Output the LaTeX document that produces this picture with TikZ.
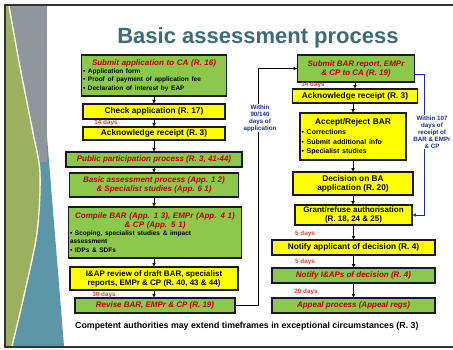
\documentclass[tikz,border=0pt]{standalone}
\usepackage{fontspec}
\setmainfont{Liberation Sans}
\usetikzlibrary{arrows.meta,shadows}
\definecolor{boxgreen}{HTML}{8CC84B}
\definecolor{boxyellow}{HTML}{FFFF00}
\definecolor{boxred}{HTML}{C00000}
\definecolor{dayred}{HTML}{E8402A}
\definecolor{noteblue}{HTML}{1A2E9A}
\definecolor{titlecol}{HTML}{3D6B78}
\definecolor{stripgreen}{HTML}{9DB060}
\definecolor{stripgrey}{HTML}{8F979C}
\definecolor{stripteal}{HTML}{5B97A6}
\begin{document}
\begin{tikzpicture}[x=1pt,y=-1pt,
  base/.style={draw=black!90, line width=1.3pt, inner sep=1.5pt, align=center,
    drop shadow={shadow xshift=0.8pt, shadow yshift=-0.8pt, opacity=0.7, fill=black}},
  gbox/.style={base, fill=boxgreen, text=boxred, font=\bfseries\itshape\fontsize{8}{9}\selectfont},
  ybox/.style={base, fill=boxyellow, text=black, font=\bfseries\fontsize{8.3}{9.3}\selectfont},
  days/.style={text=dayred, font=\bfseries\fontsize{6.3}{7}\selectfont, inner sep=0pt},
  note/.style={text=noteblue, font=\bfseries\fontsize{6.2}{7}\selectfont, align=center, fill=white, inner sep=1pt},
  arr/.style={line width=0.9pt, -{Triangle[length=3.2pt,width=3.2pt]}},
  barr/.style={line width=1pt, draw=noteblue, -{Triangle[length=3.2pt,width=3.2pt]}}
]
\useasboundingbox (0,0) rectangle (453,349);
\fill[white] (0,0) rectangle (453,349);
% left decoration strip
\fill[stripteal] (45,112) -- (64,346) -- (6,346) -- (6,112) -- cycle;
\fill[stripgrey] (6,6) rectangle (47,162);
\fill[stripgreen] (6,6) -- plot[smooth] coordinates {(9,6) (20,67) (33,133) (40,173) (37,233) (23,300) (12,346)} -- (6,346) -- cycle;
\draw[white, line width=1.3pt] plot[smooth] coordinates {(9,6) (20,67) (33,133) (40,173) (37,233) (23,300) (12,346)};
% slide frame
\draw[black!80, line width=1.6pt] (453,5) -- (5,5) -- (5,347) -- (453,347);

% title
\node[font=\bfseries\fontsize{22}{24}\selectfont, text=titlecol, anchor=base, inner sep=0pt] (title) at (258,43) {Basic assessment process};

% left column
\node[gbox, text width=142pt, align=left, minimum height=41pt] (sub) at (154,75.5)
  {{\centering Submit application to CA (R. 16)\par}%
   {\color{black}\upshape\fontsize{6.5}{8}\selectfont
   \textbullet\ Application form\\
   \textbullet\ Proof of payment of application fee\\
   \textbullet\ Declaration of interest by EAP}};
\node[ybox, minimum width=142pt, minimum height=15pt] (chk) at (154,111.5) {Check application (R. 17)};
\node[ybox, minimum width=142pt, minimum height=13pt] (ack1) at (154,133.5) {Acknowledge receipt (R. 3)};
\node[gbox, minimum width=176pt, minimum height=15pt] (pub) at (154,159.5) {Public participation process (R. 3, 41-44)};
\node[gbox, minimum width=169pt, minimum height=24pt] (bas) at (154,185) {Basic assessment process (App. 1 2)\\ \& Specialist studies (App. 6 1)};
\node[gbox, text width=170pt, align=left, minimum height=51pt] (comp) at (155,232.5)
  {{\centering Compile BAR (App. 1 3), EMPr (App. 4 1)\\ \& CP (App. 5 1)\par}%
   {\color{black}\upshape\fontsize{6.5}{8}\selectfont
   \textbullet\ Scoping, specialist studies \& impact\\
   assessment\\
   \textbullet\ IDPs \& SDFs}};
\node[ybox, minimum width=168pt, minimum height=23pt, font=\bfseries\fontsize{8}{9}\selectfont] (iap) at (154,278.5) {I\&AP review of draft BAR, specialist\\ reports, EMPr \& CP (R. 40, 43 \& 44)};
\node[gbox, minimum width=160pt, minimum height=15pt] (rev) at (155,305.5) {Revise BAR, EMPr \& CP (R. 19)};

\node[days] (d1) at (106,123) {14 days};
\node[days] (d2) at (104,295) {30 days};

% right column
\node[gbox, minimum width=117pt, minimum height=27pt] (sbar) at (356,68.5) {Submit BAR report, EMPr\\ \& CP to CA (R. 19)};
\node[ybox, minimum width=125pt, minimum height=14pt] (ack2) at (355,96) {Acknowledge receipt (R. 3)};
\node[ybox, text width=103pt, align=left, minimum height=47pt] (acc) at (353,136.5)
  {{\centering Accept/Reject BAR\par}%
   {\fontsize{7}{10}\selectfont
   \textbullet\ Corrections\\
   \textbullet\ Submit additional info\\
   \textbullet\ Specialist studies}};
\node[ybox, minimum width=120pt, minimum height=23pt] (dec) at (353,183.5) {Decision on BA\\ application (R. 20)};
\node[ybox, minimum width=117pt, minimum height=20pt, font=\bfseries\fontsize{8}{9}\selectfont] (grant) at (353.5,215) {Grant/refuse authorisation\\ (R. 18, 24 \& 25)};
\node[ybox, minimum width=163pt, minimum height=15pt] (napp) at (353.5,247.5) {Notify applicant of decision (R. 4)};
\node[gbox, minimum width=163pt, minimum height=15pt] (niap) at (353.5,275.5) {Notify I\&APs of decision (R. 4)};
\node[gbox, minimum width=163pt, minimum height=15pt] (app) at (353.5,305.5) {Appeal process (Appeal regs)};

\node[days] (d3) at (313,84.5) {14 days};
\node[days] (d4) at (305,233.5) {5 days};
\node[days] (d5) at (305,262) {5 days};
\node[days] (d6) at (306,291.5) {20 days};

% bottom note
\node[font=\bfseries\fontsize{8.8}{10}\selectfont, anchor=west, inner sep=0pt] (foot) at (75,326) {Competent authorities may extend timeframes in exceptional circumstances (R. 3)};

% left column arrows
\draw[arr] (sub.south) -- (chk.north);
\draw[arr] (chk.south) -- (ack1.north);
\draw[arr] (ack1.south) -- (pub.north);
\draw[arr] (pub.south) -- (bas.north);
\draw[arr] (bas.south) -- (bas.south |- comp.north);
\draw[arr] (comp.south -| iap.north) -- (iap.north);
\draw[arr] (iap.south) -- (iap.south |- rev.north);

% right column arrows
\draw[arr] (sbar.south -| ack2.north) -- (ack2.north);
\draw[arr] (ack2.south -| acc.north) -- (acc.north);
\draw[arr] (acc.south) -- (acc.south |- dec.north);
\draw[arr] (dec.south) -- (dec.south |- grant.north);
\draw[arr] (grant.south) -- (grant.south |- napp.north);
\draw[arr] (napp.south) -- (niap.north);
\draw[arr] (niap.south) -- (app.north);

% loop connectors
\coordinate (lx) at (258,0);
\coordinate (rx) at (424,0);
\draw[arr] (rev.east) -- (rev.east -| lx) -- (lx |- sbar.west) -- (sbar.west);
\draw[barr] ([yshift=-6pt]sbar.east) -- ([yshift=-6pt]sbar.east -| rx) -- (rx |- grant.east) -- (grant.east);

\node[note] (n1) at (260,118) {Within\\ 90/140\\ days of\\ application};
\node[note] (n2) at (432,132) {Within 107\\ days of\\ receipt of\\ BAR \& EMPr\\ \& CP};
\end{tikzpicture}
\end{document}
